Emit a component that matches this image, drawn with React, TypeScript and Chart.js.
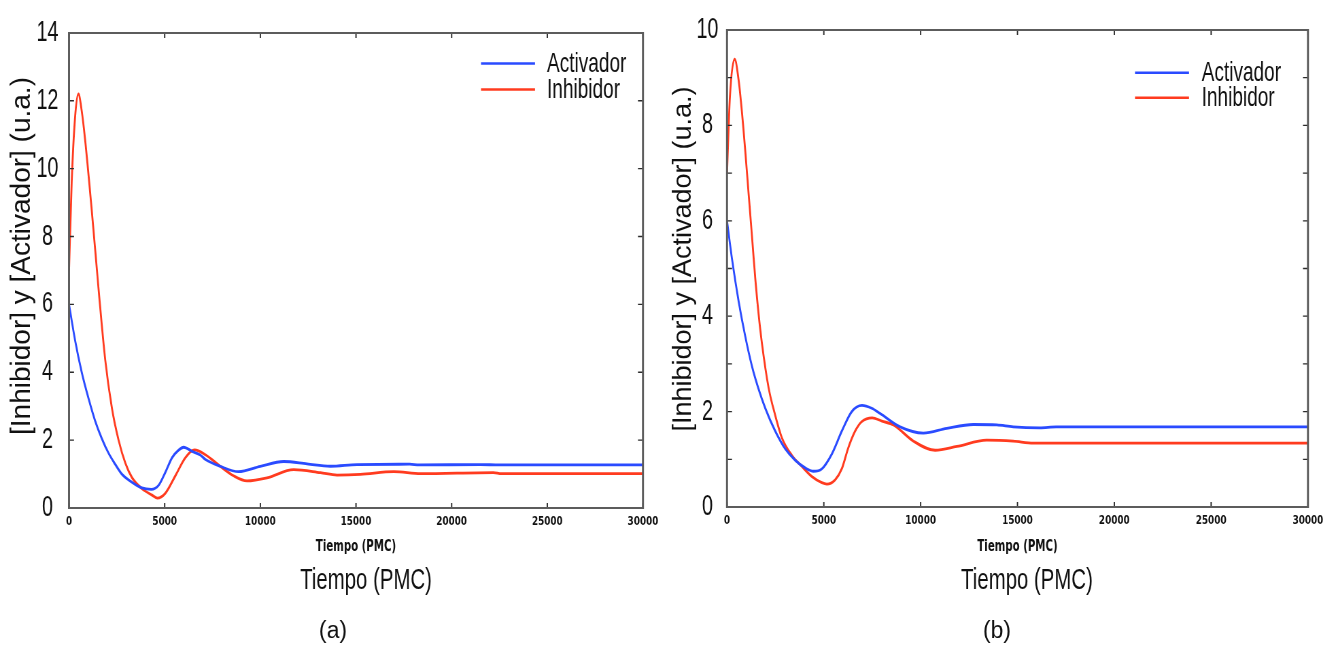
import React, { useEffect, useRef } from 'react';
import { Chart, registerables } from 'chart.js';

Chart.register(...registerables);

// ---------- geometry of the figure (CSS px) ----------
const CSS_W = 669;
const LOGICAL_W = 984;
const SQ = CSS_W / LOGICAL_W; // horizontal squeeze of the original figure
const H = 648;

// ---------- data ----------
const xTickValues = [0, 5000, 10000, 15000, 20000, 25000, 30000];
const xTickLabels = ['0', '5000', '10000', '15000', '20000', '25000', '30000'];

const yTickValuesA = [0, 2, 4, 6, 8, 10, 12, 14];
const yTickLabelsA = ['0', '2', '4', '6', '8', '10', '12', '14'];
const yTickValuesB = [0, 1, 2, 3, 4, 5, 6, 7, 8, 9, 10];
const yTickLabelsB = ['0', '', '2', '', '4', '', '6', '', '8', '', '10'];

const seriesNames = ['Activador', 'Inhibidor'];
const yTitleText = '[Inhibidor] y [Activador] (u.a.)';
const xTitleText = 'Tiempo (PMC)';

// panel (a)
const actA_t = [0, 315, 664, 1014, 1364, 1713, 2063, 2413, 2762, 3287, 3811, 4300, 4685, 5035, 5385, 5734, 5990, 6434, 6860, 7133, 7900, 8860, 10000, 11220, 12440, 13660, 15060, 17800, 18300, 21500, 22500, 30000];
const actA_v = [6.0, 4.95, 4.0, 3.24, 2.57, 2.05, 1.62, 1.29, 1.0, 0.76, 0.59, 0.55, 0.67, 1.05, 1.48, 1.71, 1.79, 1.67, 1.56, 1.43, 1.23, 1.07, 1.23, 1.37, 1.30, 1.23, 1.28, 1.29, 1.27, 1.28, 1.27, 1.27];
const inhA_t = [0, 140, 315, 490, 664, 840, 1190, 1540, 1890, 2240, 2590, 2940, 3290, 3810, 4340, 4620, 5030, 5560, 6080, 6560, 7130, 7900, 8600, 9300, 10350, 11740, 13140, 14010, 15230, 16980, 18380, 22180, 22600, 30000];
const inhA_v = [7.0, 9.6, 11.5, 12.2, 11.7, 10.86, 8.76, 6.48, 4.38, 2.95, 2.0, 1.33, 0.9, 0.57, 0.38, 0.29, 0.43, 0.95, 1.48, 1.71, 1.57, 1.23, 0.95, 0.80, 0.89, 1.13, 1.04, 0.97, 0.99, 1.07, 1.01, 1.04, 1.01, 1.01];

// panel (b)
const actB_t = [0, 258, 601, 945, 1289, 1632, 1976, 2491, 3007, 3522, 4038, 4467, 4897, 5412, 5928, 6443, 6970, 7474, 7910, 8940, 10140, 11350, 12720, 13930, 14780, 16150, 17000, 30000];
const actB_v = [6.0, 5.2, 4.31, 3.57, 2.95, 2.47, 2.07, 1.59, 1.22, 0.98, 0.82, 0.75, 0.80, 1.11, 1.59, 2.0, 2.13, 2.07, 1.96, 1.68, 1.55, 1.65, 1.73, 1.72, 1.68, 1.66, 1.68, 1.68];
const inhB_t = [0, 150, 395, 600, 773, 945, 1117, 1289, 1460, 1632, 1804, 2148, 2491, 2835, 3351, 3866, 4381, 4897, 5155, 5584, 5928, 6271, 6615, 6959, 7500, 8000, 8600, 9630, 10750, 11870, 13410, 14780, 15820, 30000];
const inhB_v = [7.0, 8.6, 9.39, 8.95, 8.27, 7.45, 6.56, 5.68, 4.79, 4.04, 3.43, 2.5, 1.92, 1.45, 1.08, 0.85, 0.64, 0.51, 0.48, 0.57, 0.80, 1.25, 1.59, 1.79, 1.87, 1.80, 1.72, 1.38, 1.19, 1.27, 1.40, 1.38, 1.34, 1.34];

const BLUE = '#2a4bff';
const RED = '#ff3b1f';

const toPts = (t: number[], v: number[]) => t.map((x, i) => ({ x, y: v[i] }));

// ---------- decoration plugin: frame, mirrored inward ticks, legend, captions ----------
const decor = {
  id: 'decor',
  afterDraw(chart: any, _a: any, o: any) {
    const { ctx, chartArea: ca, scales } = chart;
    const xs = scales.x;
    const ys = scales.y;
    const k = 1 / SQ;
    ctx.save();
    // tick marks (inward, all four sides)
    ctx.strokeStyle = '#2b2b2b';
    ctx.lineWidth = 1.3 * k;
    ctx.beginPath();
    xs.ticks.forEach((t: any) => {
      const px = xs.getPixelForValue(t.value);
      ctx.moveTo(px, ca.bottom);
      ctx.lineTo(px, ca.bottom - 5);
      ctx.moveTo(px, ca.top);
      ctx.lineTo(px, ca.top + 5);
    });
    ctx.stroke();
    ctx.lineWidth = 1.3;
    ctx.beginPath();
    ys.ticks.forEach((t: any) => {
      const py = ys.getPixelForValue(t.value);
      ctx.moveTo(ca.left, py);
      ctx.lineTo(ca.left + 5 * k, py);
      ctx.moveTo(ca.right, py);
      ctx.lineTo(ca.right - 5 * k, py);
    });
    ctx.stroke();
    // frame
    ctx.strokeStyle = '#5c5c5c';
    ctx.lineWidth = 2;
    ctx.beginPath();
    ctx.moveTo(ca.left, ca.top);
    ctx.lineTo(ca.right, ca.top);
    ctx.moveTo(ca.left, ca.bottom);
    ctx.lineTo(ca.right, ca.bottom);
    ctx.stroke();
    ctx.lineWidth = 2 * k;
    ctx.beginPath();
    ctx.moveTo(ca.left, ca.top - 1);
    ctx.lineTo(ca.left, ca.bottom + 1);
    ctx.moveTo(ca.right, ca.top - 1);
    ctx.lineTo(ca.right, ca.bottom + 1);
    ctx.stroke();

    // legend
    const lg = o.legend;
    chart.data.datasets.forEach((ds: any, i: number) => {
      const y = lg.rows[i];
      ctx.strokeStyle = ds.borderColor;
      ctx.lineWidth = 2.6;
      ctx.beginPath();
      ctx.moveTo(lg.x1 * k, y);
      ctx.lineTo(lg.x2 * k, y);
      ctx.stroke();
      ctx.fillStyle = '#111';
      ctx.font = '28px "Liberation Sans", Arial, sans-serif';
      ctx.textAlign = 'left';
      ctx.textBaseline = 'middle';
      ctx.fillText(ds.label, lg.tx * k, y + 1);
    });

    ctx.fillStyle = '#111';
    ctx.textAlign = 'center';
    ctx.textBaseline = 'middle';

    // rotated y title (not squeezed)
    ctx.save();
    ctx.translate(o.yTitle.x * k, o.yTitle.y);
    ctx.scale(k, 1);
    ctx.rotate(-Math.PI / 2);
    ctx.font = o.yTitle.size + 'px "Liberation Sans", Arial, sans-serif';
    ctx.fillText(yTitleText, 0, 0);
    ctx.restore();

    // big axis caption
    ctx.font = '30px "Liberation Sans", Arial, sans-serif';
    ctx.fillText(xTitleText, o.bigTitle.x * k, o.bigTitle.y);

    // panel letter (not squeezed)
    ctx.save();
    ctx.translate(o.letter.x * k, o.letter.y);
    ctx.scale(k, 1);
    ctx.font = '23px "Liberation Sans", Arial, sans-serif';
    ctx.fillText(o.letter.text, 0, 0);
    ctx.restore();

    ctx.restore();
  },
};

function buildConfig(p: any): any {
  const lineDs = (label: string, data: any, color: string) => ({
    label,
    data,
    borderColor: color,
    borderWidth: 2.8,
    pointRadius: 0,
    fill: false,
    cubicInterpolationMode: 'monotone',
  });
  return {
    type: 'line',
    data: {
      datasets: [lineDs(seriesNames[0], p.act, BLUE), lineDs(seriesNames[1], p.inh, RED)],
    },
    options: {
      animation: false,
      responsive: false,
      devicePixelRatio: 1,
      events: [],
      layout: { padding: { left: 0, top: p.padTop, right: p.padRight, bottom: 0 } },
      plugins: {
        legend: { display: false },
        tooltip: { enabled: false },
        decor: p.decor,
      },
      scales: {
        x: {
          type: 'linear',
          min: 0,
          max: 30000,
          afterBuildTicks: (s: any) => {
            s.ticks = xTickValues.map((v) => ({ value: v }));
          },
          afterFit: (s: any) => {
            s.height = p.xAxisHeight;
          },
          grid: { display: false, drawTicks: false },
          border: { display: false },
          ticks: {
            autoSkip: false,
            maxRotation: 0,
            padding: 6,
            color: '#111',
            font: { family: '"DejaVu Sans", sans-serif', weight: 'bold', size: 13 },
            callback: (_v: any, i: number) => xTickLabels[i],
          },
          title: {
            display: true,
            text: xTitleText,
            color: '#111',
            font: { family: '"DejaVu Sans", sans-serif', weight: 'bold', size: 15 },
            padding: { top: 0, bottom: p.xTitlePadBottom },
          },
        },
        y: {
          type: 'linear',
          min: 0,
          max: p.yMax,
          afterBuildTicks: (s: any) => {
            s.ticks = p.yTickValues.map((v: number) => ({ value: v }));
          },
          afterFit: (s: any) => {
            s.width = p.yAxisWidth;
          },
          grid: { display: false, drawTicks: false },
          border: { display: false },
          ticks: {
            autoSkip: false,
            crossAlign: 'center',
            padding: p.yTickPad,
            color: '#111',
            font: { family: '"Liberation Sans", Arial, sans-serif', size: 29 },
            callback: (_v: any, i: number) => p.yTickLabels[i],
          },
          title: { display: false },
        },
      },
    },
    plugins: [decor],
  };
}

const panelA = {
  act: toPts(actA_t, actA_v),
  inh: toPts(inhA_t, inhA_v),
  yMax: 14,
  yTickValues: yTickValuesA,
  yTickLabels: yTickLabelsA,
  padTop: 19,
  padRight: 38.3,
  xAxisHeight: 140,
  yAxisWidth: 101.5,
  yTickPad: 15.5,
  xTitlePadBottom: 92,
  decor: {
    legend: { x1: 481, x2: 535, tx: 547, rows: [63.5, 89.5] },
    yTitle: { x: 22, y: 256, size: 28 },
    bigTitle: { x: 366, y: 581 },
    letter: { text: '(a)', x: 333, y: 632 },
  },
};

const panelB = {
  act: toPts(actB_t, actB_v),
  inh: toPts(inhB_t, inhB_v),
  yMax: 10,
  yTickValues: yTickValuesB,
  yTickLabels: yTickLabelsB,
  padTop: 18,
  padRight: 44.2,
  xAxisHeight: 141,
  yAxisWidth: 85.3,
  yTickPad: 12.6,
  xTitlePadBottom: 92,
  decor: {
    legend: { x1: 466, x2: 520, tx: 532.7, rows: [72.7, 97.7] },
    yTitle: { x: 14, y: 259, size: 27 },
    bigTitle: { x: 358, y: 581 },
    letter: { text: '(b)', x: 328, y: 632 },
  },
};

function Panel({ cfg, left }: { cfg: any; left: number }) {
  const ref = useRef<HTMLCanvasElement>(null);
  useEffect(() => {
    const chart = new Chart(ref.current as HTMLCanvasElement, buildConfig(cfg));
    return () => chart.destroy();
  }, [cfg]);
  return (
    <canvas
      ref={ref}
      width={LOGICAL_W}
      height={H}
      style={{ position: 'absolute', left, top: 0, width: CSS_W + 'px', height: H + 'px' }}
    />
  );
}

export default function App() {
  return (
    <div style={{ position: 'absolute', left: 0, top: 0, width: 1338, height: H, background: '#fff' }}>
      <Panel cfg={panelA} left={0} />
      <Panel cfg={panelB} left={CSS_W} />
    </div>
  );
}
